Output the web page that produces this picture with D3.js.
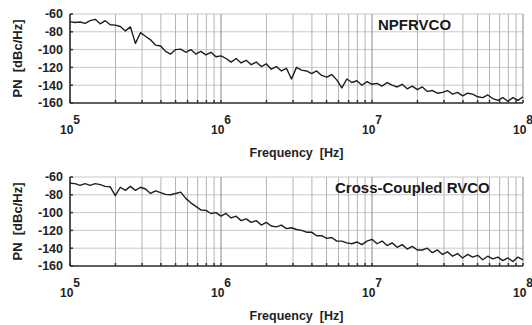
<!DOCTYPE html>
<html>
<head>
<meta charset="utf-8">
<script src="https://cdn.jsdelivr.net/npm/d3@7"></script>
<style>
  body { margin: 0; background: #fff; }
  svg { display: block; font-family: "Liberation Sans", Arial, sans-serif; font-weight: bold; }
</style>
</head>
<body>
<div id="chart"></div>
<script>
// measurement sweep, Hz (30 points per decade)
var freqs = [
  1.000e5, 1.080e5, 1.166e5, 1.259e5, 1.359e5, 1.468e5, 1.585e5, 1.711e5, 1.848e5, 1.995e5,
  2.154e5, 2.326e5, 2.512e5, 2.712e5, 2.929e5, 3.162e5, 3.415e5, 3.687e5, 3.981e5, 4.299e5,
  4.642e5, 5.012e5, 5.412e5, 5.843e5, 6.310e5, 6.813e5, 7.356e5, 7.943e5, 8.577e5, 9.261e5,
  1.000e6, 1.080e6, 1.166e6, 1.259e6, 1.359e6, 1.468e6, 1.585e6, 1.711e6, 1.848e6, 1.995e6,
  2.154e6, 2.326e6, 2.512e6, 2.712e6, 2.929e6, 3.162e6, 3.415e6, 3.687e6, 3.981e6, 4.299e6,
  4.642e6, 5.012e6, 5.412e6, 5.843e6, 6.310e6, 6.813e6, 7.356e6, 7.943e6, 8.577e6, 9.261e6,
  1.000e7, 1.080e7, 1.166e7, 1.259e7, 1.359e7, 1.468e7, 1.585e7, 1.711e7, 1.848e7, 1.995e7,
  2.154e7, 2.326e7, 2.512e7, 2.712e7, 2.929e7, 3.162e7, 3.415e7, 3.687e7, 3.981e7, 4.299e7,
  4.642e7, 5.012e7, 5.412e7, 5.843e7, 6.310e7, 6.813e7, 7.356e7, 7.943e7, 8.577e7, 9.261e7,
  1.000e8
];

// phase noise, dBc/Hz
var pnNpfrvco = [
  -68.5, -69.5, -69, -70.5, -67.5, -66, -71, -67.5, -72, -72.5,
  -74, -79, -74.5, -93, -81, -85, -89, -95, -96, -102,
  -105, -100, -99.5, -103, -100, -105, -102, -106, -103, -108,
  -107, -110, -114, -110, -115, -112, -117, -114, -119, -116,
  -122, -119, -124, -121, -133, -120, -123, -124, -127, -124,
  -129, -131, -128, -134, -143, -133, -137, -135, -140, -136,
  -139, -138, -141, -137, -140, -142, -139, -144, -141, -145,
  -142, -147, -146, -149, -148, -146, -150, -148, -152, -149,
  -150, -153, -154, -151, -155, -157, -154, -158, -154, -157,
  -153
];

var pnCrossCoupled = [
  -67, -67.5, -69.5, -67.5, -69.5, -67.5, -68.5, -70.5, -71, -81,
  -71.5, -75, -70.5, -75, -71.5, -73.5, -78.5, -75.5, -77.5, -79.5,
  -80, -78.5, -77, -84, -89, -93, -97, -97.5, -101, -100,
  -104, -101, -106, -104, -109, -107, -111, -109, -114, -111,
  -115, -116, -114, -118, -117, -119, -120, -122, -122, -126,
  -126, -129, -128, -132, -132, -134, -135, -133, -136, -132,
  -130, -135, -132, -137, -134, -139, -136, -141, -138, -142,
  -142, -140, -145, -142, -147, -144, -149, -146, -151, -147,
  -150, -148, -153, -149, -152, -150, -154, -151, -155, -150,
  -153
];

var yTicks = [-60, -80, -100, -120, -140, -160];
var decades = [5, 6, 7, 8];
var titles = ["NPFRVCO", "Cross-Coupled RVCO"];

var W = 532, H = 325;
var svg = d3.select("#chart").append("svg")
    .attr("width", W)
    .attr("height", H);

var x = d3.scaleLog().domain([1e5, 1e8]).range([70, 523]);

// minor + major vertical grid positions
var gridF = [];
decades.slice(0, 3).forEach(function(d) {
  for (var m = 1; m < 10; m++) gridF.push(m * Math.pow(10, d));
});
gridF.push(1e8);

function panel(series, title, top, bottom, titleX, titleY) {
  var y = d3.scaleLinear().domain([-160, -60]).range([bottom, top]);
  var g = svg.append("g");

  // horizontal grid
  g.selectAll(".hgrid").data(yTicks).enter().append("line")
      .attr("x1", x(1e5)).attr("x2", x(1e8))
      .attr("y1", function(d) { return y(d); })
      .attr("y2", function(d) { return y(d); })
      .attr("stroke", "#c8c8c8").attr("stroke-width", 1);

  // vertical grid
  g.selectAll(".vgrid").data(gridF).enter().append("line")
      .attr("x1", function(d) { return x(d); })
      .attr("x2", function(d) { return x(d); })
      .attr("y1", top).attr("y2", bottom)
      .attr("stroke", function(d) {
        var e = Math.log10(d);
        return Math.abs(e - Math.round(e)) < 1e-6 ? "#8a8a8a" : "#b4b4b4";
      })
      .attr("stroke-width", 1);

  // small inward ticks
  g.selectAll(".xt").data(gridF).enter().append("line")
      .attr("x1", function(d) { return x(d); })
      .attr("x2", function(d) { return x(d); })
      .attr("y1", bottom).attr("y2", bottom - 3)
      .attr("stroke", "#333").attr("stroke-width", 1.5);
  g.selectAll(".yt").data(yTicks).enter().append("line")
      .attr("x1", x(1e5)).attr("x2", x(1e5) + 3)
      .attr("y1", function(d) { return y(d); })
      .attr("y2", function(d) { return y(d); })
      .attr("stroke", "#333").attr("stroke-width", 1.5);

  // axis lines
  g.append("line").attr("x1", x(1e5)).attr("x2", x(1e8))
      .attr("y1", bottom).attr("y2", bottom)
      .attr("stroke", "#333").attr("stroke-width", 1.6);
  g.append("line").attr("x1", x(1e5)).attr("x2", x(1e5))
      .attr("y1", top).attr("y2", bottom)
      .attr("stroke", "#333").attr("stroke-width", 1.6);

  // data line
  var line = d3.line()
      .x(function(d, i) { return x(freqs[i]); })
      .y(function(d) { return y(d); });
  g.append("path").datum(series)
      .attr("d", line)
      .attr("fill", "none")
      .attr("stroke", "#1e1e1e")
      .attr("stroke-width", 1.4)
      .attr("stroke-linejoin", "round");

  // y tick labels
  g.selectAll(".ylab").data(yTicks).enter().append("text")
      .attr("x", 63)
      .attr("y", function(d) { return y(d); })
      .attr("dy", "0.35em")
      .attr("text-anchor", "end")
      .attr("font-size", 12.5)
      .attr("fill", "#222")
      .text(function(d) { return d; });

  // x tick labels 10^n
  var xl = g.selectAll(".xlab").data(decades).enter().append("text")
      .attr("x", function(d) { return x(Math.pow(10, d)); })
      .attr("y", bottom + 31)
      .attr("text-anchor", "middle")
      .attr("font-size", 12)
      .attr("fill", "#222");
  xl.append("tspan").text("10");
  xl.append("tspan").attr("dy", -10).text(function(d) { return d; });

  // axis titles
  g.append("text")
      .attr("x", (x(1e5) + x(1e8)) / 2)
      .attr("y", bottom + 54)
      .attr("text-anchor", "middle")
      .attr("font-size", 12.5)
      .attr("fill", "#222")
      .style("white-space", "pre")
      .text("Frequency  [Hz]");

  g.append("text")
      .attr("transform", "translate(22," + ((top + bottom) / 2) + ") rotate(-90)")
      .attr("text-anchor", "middle")
      .attr("font-size", 13)
      .attr("fill", "#222")
      .style("white-space", "pre")
      .text("PN  [dBc/Hz]");

  g.append("text")
      .attr("x", titleX)
      .attr("y", titleY)
      .attr("font-size", 15)
      .attr("fill", "#1a1a1a")
      .text(title);
}

panel(pnNpfrvco, titles[0], 14, 103, 378, 30);
panel(pnCrossCoupled, titles[1], 177, 266, 335, 193);
</script>
</body>
</html>
